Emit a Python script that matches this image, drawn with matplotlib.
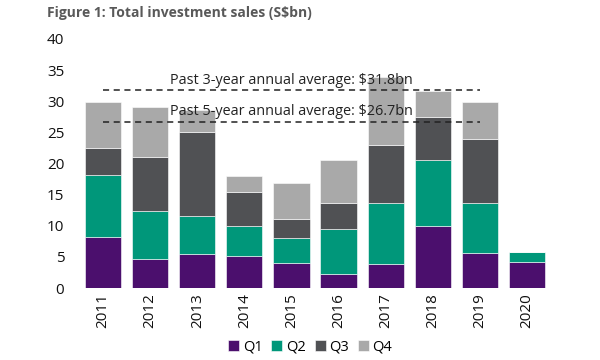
import numpy as np
import matplotlib.pyplot as plt

plt.rcParams["font.family"] = ["Open Sans", "DejaVu Sans"]

years = ["2011", "2012", "2013", "2014", "2015", "2016", "2017", "2018", "2019", "2020"]
q1 = [8.2, 4.7, 5.5, 5.1, 4.0, 2.2, 3.8, 10.0, 5.7, 4.1]
q2 = [9.9, 7.7, 6.0, 4.9, 4.1, 7.2, 9.8, 10.6, 7.9, 1.7]
q3 = [4.4, 8.6, 13.5, 5.5, 3.0, 4.2, 9.4, 6.9, 10.4, 0.0]
q4 = [7.3, 8.1, 3.6, 2.5, 5.7, 7.0, 10.9, 4.2, 5.8, 0.0]

quarters = ["Q1", "Q2", "Q3", "Q4"]
colors = ["#4b0f6d", "#00977a", "#505154", "#a9a9a9"]

avg_3yr = 31.8
avg_5yr = 26.7


def main():
    fig = plt.figure(figsize=(6, 3.6), dpi=100)
    ax = fig.add_axes([0.1325, 0.2, 0.785, 0.6917])

    x = np.arange(len(years))
    bottom = np.zeros(len(years))
    for name, vals, c in zip(quarters, [q1, q2, q3, q4], colors):
        vals = np.array(vals)
        ax.bar(x, vals, 0.77, bottom=bottom, color=c, label=name,
               edgecolor="white", linewidth=0.4)
        bottom += vals

    # average lines
    ax.plot([0, 8], [avg_3yr, avg_3yr], ls=(0, (4, 3)), color="#222222", lw=1.1)
    ax.plot([0, 8], [avg_5yr, avg_5yr], ls=(0, (4, 3)), color="#222222", lw=1.1)
    ax.text(4.0, avg_3yr + 0.4, f"Past 3-year annual average: ${avg_3yr}bn",
            ha="center", va="bottom", fontsize=10.4, color="#222222")
    ax.text(4.0, avg_5yr + 0.4, f"Past 5-year annual average: ${avg_5yr}bn",
            ha="center", va="bottom", fontsize=10.4, color="#222222")

    ax.set_xlim(-0.5, len(years) - 0.5)
    ax.set_ylim(0, 40)
    ax.set_yticks(range(0, 41, 5))
    ax.set_xticks(x)
    ax.set_xticklabels(years, rotation=90)
    ax.tick_params(length=0, labelsize=11, colors="#111111")
    ax.tick_params(axis="y", pad=11)
    for s in ax.spines.values():
        s.set_visible(False)

    fig.text(0.078, 0.965, "Figure 1: Total investment sales (S$bn)",
             fontsize=10, fontweight="bold", color="#595959", va="center")

    fig.legend(loc="center", bbox_to_anchor=(0.517, 0.035), ncol=4,
               frameon=False, fontsize=10.5, handlelength=0.75, handleheight=0.75,
               handletextpad=0.25, columnspacing=0.6)

    plt.savefig("out.png", dpi=100)
    plt.close()


if __name__ == "__main__":
    main()
